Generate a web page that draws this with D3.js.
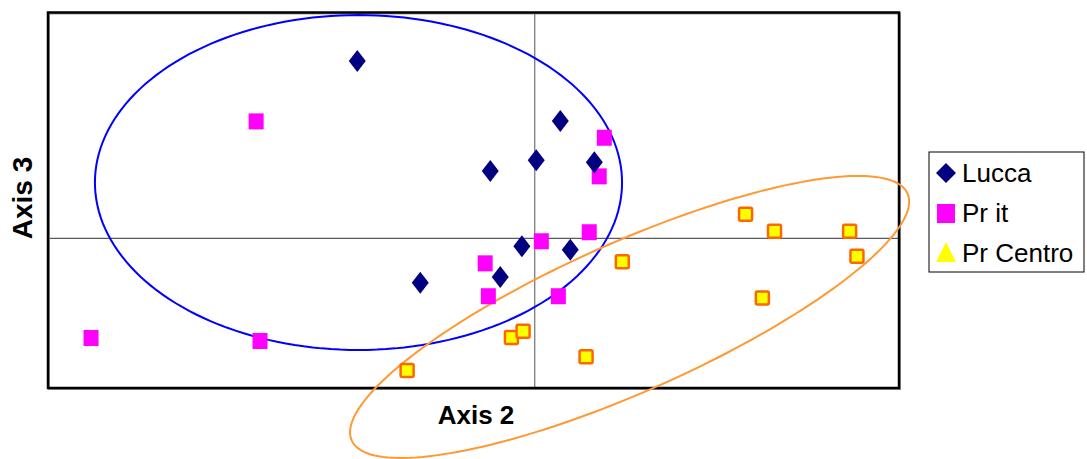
<!DOCTYPE html>
<html>
<head>
<meta charset="utf-8">
<script src="https://cdn.jsdelivr.net/npm/d3@7"></script>
<style>
  html, body { margin: 0; padding: 0; background: #fff; }
  svg { display: block; }
  text { font-family: "Liberation Sans", Arial, sans-serif; }
</style>
</head>
<body>
<svg id="chart" width="1087" height="459"></svg>
<script>
// Scores on axis 2 (x) and axis 3 (y) for each group
const luccaX = [-0.728, 0.107, -0.181, 0.008, 0.247, -0.051, 0.148, -0.140, -0.469];
const luccaY = [1.177, 0.778, 0.445, 0.516, 0.503, -0.057, -0.079, -0.261, -0.299];

const prItX = [-1.144, 0.288, 0.267, 0.029, 0.226, -0.202, -0.189, 0.099, -1.823, -1.128];
const prItY = [0.775, 0.666, 0.409, -0.023, 0.037, -0.170, -0.389, -0.389, -0.667, -0.687];

const prCentroX = [0.869, 0.988, 1.297, 1.327, 0.938, 0.362, -0.523, -0.094, -0.046, 0.213];
const prCentroY = [0.157, 0.044, 0.044, -0.123, -0.400, -0.159, -0.883, -0.663, -0.623, -0.792];

// Group ellipses: centre plus two semi-axis vectors, in axis units
const luccaPrItEllipse = { cx: -0.723, cy: 0.368, ux: 1.084, uy: 0, vx: 0, vy: 1.115 };
const prCentroEllipse = { cx: 0.392, cy: -0.527, ux: 1.143, uy: 0.822, vx: 0.1246, vy: -0.454 };

const seriesNames = ["Lucca", "Pr it", "Pr Centro"];
const xTitle = "Axis 2";
const yTitle = "Axis 3";

const svg = d3.select("#chart");
const plot = { left: 48, top: 12.5, right: 899, bottom: 388 };

const x = d3.scaleLinear().domain([-2, 1.5]).range([plot.left, plot.right]);
const y = d3.scaleLinear().domain([-1, 1.5]).range([plot.bottom, plot.top]);

// Zero axes through the origin, without ticks
svg.append("g")
  .attr("transform", `translate(0,${y(0)})`)
  .call(d3.axisBottom(x).tickValues([]).tickSizeOuter(0))
  .call(g => g.select(".domain").attr("stroke", "#333").attr("stroke-width", 1));
svg.append("g")
  .attr("transform", `translate(${x(0)},0)`)
  .call(d3.axisLeft(y).tickValues([]).tickSizeOuter(0))
  .call(g => g.select(".domain").attr("stroke", "#555").attr("stroke-width", 1));

// Plot frame with a faint grey edge
svg.append("rect")
  .attr("x", plot.left + 1).attr("y", plot.top + 1)
  .attr("width", plot.right - plot.left).attr("height", plot.bottom - plot.top)
  .attr("fill", "none").attr("stroke", "#999").attr("stroke-width", 2);
svg.append("rect")
  .attr("x", plot.left).attr("y", plot.top)
  .attr("width", plot.right - plot.left).attr("height", plot.bottom - plot.top)
  .attr("fill", "none").attr("stroke", "#000").attr("stroke-width", 2.5);

// Ellipse outline traced through the scales
function ellipsePath(e) {
  const pts = d3.range(0, 361, 2).map(d => {
    const t = d * Math.PI / 180;
    return [e.cx + e.ux * Math.cos(t) + e.vx * Math.sin(t),
            e.cy + e.uy * Math.cos(t) + e.vy * Math.sin(t)];
  });
  return d3.line().x(p => x(p[0])).y(p => y(p[1])).curve(d3.curveLinearClosed)(pts);
}

svg.append("path").attr("d", ellipsePath(luccaPrItEllipse))
  .attr("fill", "none").attr("stroke", "#0000ff").attr("stroke-width", 2);
svg.append("path").attr("d", ellipsePath(prCentroEllipse))
  .attr("fill", "none").attr("stroke", "#ff9933").attr("stroke-width", 2);

// Markers
const diamond = "M0,-11 L8.5,0 L0,11 L-8.5,0 Z";

svg.append("g").selectAll("rect")
  .data(d3.zip(prCentroX, prCentroY))
  .join("rect")
  .attr("x", d => x(d[0]) - 6.5).attr("y", d => y(d[1]) - 6.5)
  .attr("width", 13).attr("height", 13).attr("rx", 1.5)
  .attr("fill", "#ffff00").attr("stroke", "#ff6600").attr("stroke-width", 2.5);

svg.append("g").selectAll("rect")
  .data(d3.zip(prItX, prItY))
  .join("rect")
  .attr("x", d => x(d[0]) - 7.5).attr("y", d => y(d[1]) - 8)
  .attr("width", 15).attr("height", 16)
  .attr("fill", "#ff00ff");

svg.append("g").selectAll("path")
  .data(d3.zip(luccaX, luccaY))
  .join("path")
  .attr("d", diamond)
  .attr("transform", d => `translate(${x(d[0])},${y(d[1])})`)
  .attr("fill", "#000080");

// Axis titles
svg.append("text")
  .attr("x", 476).attr("y", 424)
  .attr("text-anchor", "middle")
  .attr("font-size", 26).attr("font-weight", "bold")
  .text(xTitle);
svg.append("text")
  .attr("transform", "translate(32,198) rotate(-90)")
  .attr("text-anchor", "middle")
  .attr("font-size", 28).attr("font-weight", "bold")
  .text(yTitle);

// Legend
const legend = svg.append("g");
legend.append("rect")
  .attr("x", 929).attr("y", 152).attr("width", 155).attr("height", 120)
  .attr("fill", "#fff").attr("stroke", "#000").attr("stroke-width", 1);

const legendRows = legend.selectAll("g.row")
  .data(seriesNames)
  .join("g").attr("class", "row")
  .attr("transform", (d, i) => `translate(946,${173 + i * 40})`);

legendRows.each(function (d, i) {
  const g = d3.select(this);
  if (i === 0) {
    g.append("path").attr("d", "M0,-10 L10,0 L0,10 L-10,0 Z").attr("fill", "#000080");
  } else if (i === 1) {
    g.append("rect").attr("x", -9).attr("y", -9).attr("width", 18).attr("height", 19).attr("fill", "#ff00ff");
  } else {
    g.append("path").attr("d", "M0,-11 L10,9 L-10,9 Z").attr("fill", "#ffff00");
  }
  g.append("text")
    .attr("x", 16).attr("y", 9)
    .attr("font-size", 26)
    .attr("fill", "#000")
    .text(d);
});
</script>
</body>
</html>
